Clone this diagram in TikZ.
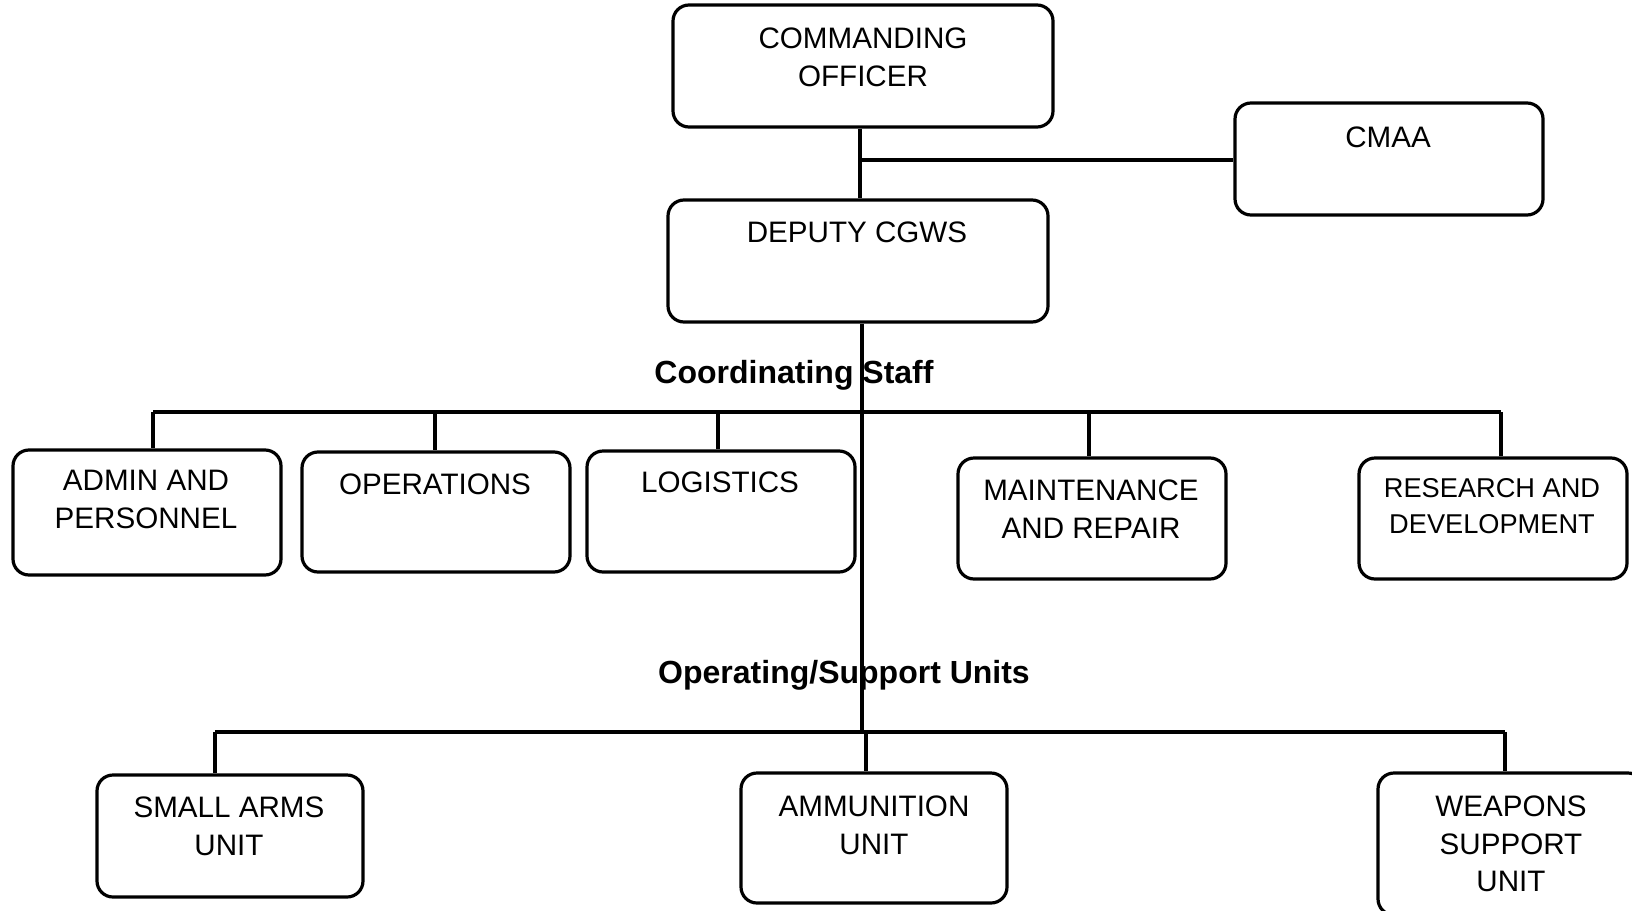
\documentclass[tikz,border=0pt]{standalone}
\usepackage{fontspec}
\setmainfont{Liberation Sans}
\begin{document}
\begin{tikzpicture}[x=0.5pt,y=-0.5pt,
  box/.style={draw=black, line width=1.6pt, rounded corners=8pt, fill=white, inner sep=0pt},
  txt/.style={align=center, font=\fontsize{14.8}{18.75}\selectfont, inner sep=0pt},
  lbl/.style={font=\bfseries\fontsize{16}{18}\selectfont, inner sep=0pt},
  wire/.style={line width=1.6pt}]
\useasboundingbox (0,0) rectangle (1632,910);
% boxes
\node[box, minimum width=190pt, minimum height=61pt] (co) at (863,66) {};
\node[box, minimum width=154pt, minimum height=56pt] (cmaa) at (1389,159) {};
\node[box, minimum width=190pt, minimum height=61pt] (dep) at (858,261) {};
\node[box, minimum width=134pt, minimum height=62.5pt] (adm) at (147,512.5) {};
\node[box, minimum width=134pt, minimum height=60pt] (ops) at (436,512) {};
\node[box, minimum width=134pt, minimum height=60.5pt] (log) at (721,511.5) {};
\node[box, minimum width=134pt, minimum height=60.5pt] (mnt) at (1092,518.5) {};
\node[box, minimum width=134pt, minimum height=60.5pt] (rnd) at (1493,518.5) {};
\node[box, minimum width=133pt, minimum height=61pt] (sau) at (230,836) {};
\node[box, minimum width=133pt, minimum height=65pt] (amu) at (874,838) {};
\node[box, minimum width=133pt, minimum height=71pt] (wsu) at (1511,844) {};
% texts
\node[txt] (cot) at (863,57.3) {COMMANDING\\OFFICER};
\node[txt] (cmaat) at (1388,137) {CMAA};
\node[txt] (dept) at (857,232) {DEPUTY CGWS};
\node[txt] (admt) at (146,499.5) {ADMIN AND\\PERSONNEL};
\node[txt] (opst) at (435,484) {OPERATIONS};
\node[txt] (logt) at (720,482) {LOGISTICS};
\node[txt] (mntt) at (1091,509) {MAINTENANCE\\AND REPAIR};
\node[txt, font=\fontsize{13.6}{18}\selectfont] (rndt) at (1492,506) {RESEARCH AND\\DEVELOPMENT};
\node[txt] (saut) at (229,826.5) {SMALL ARMS\\UNIT};
\node[txt] (amut) at (874,825.5) {AMMUNITION\\UNIT};
\node[txt] (wsut) at (1511,844) {WEAPONS\\SUPPORT\\UNIT};
% labels
\node[lbl] (cs) at (794,375) {Coordinating Staff};
\node[lbl] (osu) at (844,675) {Operating/Support Units};
% junctions
\coordinate (j1) at (860,160);
\coordinate (s2) at (862,732);
\coordinate (b1) at (153,412);
\coordinate (b2) at (435,412);
\coordinate (b3) at (718,412);
\coordinate (b4) at (1089,412);
\coordinate (b5) at (1501,412);
\coordinate (c1) at (215,732);
\coordinate (c2) at (866,732);
\coordinate (c3) at (1505,732);
% connectors
\draw[wire] (co.south -| j1) -- (dep.north -| j1);
\draw[wire] (j1) -- (j1 -| cmaa.west);
\draw[wire] (dep.south -| s2) -- (s2);
\draw[wire] (b1) -- (b5);
\draw[wire] (b1) -- (b1 |- adm.north);
\draw[wire] (b2) -- (b2 |- ops.north);
\draw[wire] (b3) -- (b3 |- log.north);
\draw[wire] (b4) -- (b4 |- mnt.north);
\draw[wire] (b5) -- (b5 |- rnd.north);
\draw[wire] (c1) -- (c3);
\draw[wire] (c1) -- (c1 |- sau.north);
\draw[wire] (c2) -- (c2 |- amu.north);
\draw[wire] (c3) -- (c3 |- wsu.north);
\end{tikzpicture}
\end{document}
